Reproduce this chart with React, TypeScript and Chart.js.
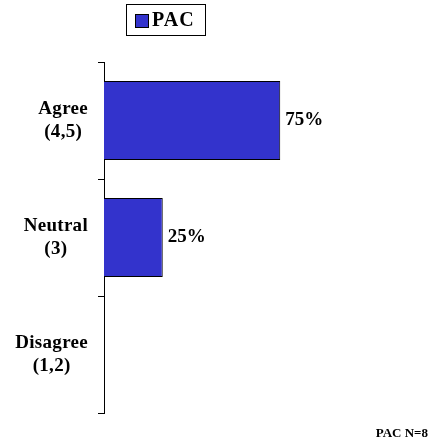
import React, { useEffect, useRef } from "react";
import { Chart, registerables } from "chart.js";

Chart.register(...registerables);

const categories: string[][] = [["Agree", "(4,5)"], ["Neutral", "(3)"], ["Disagree", "(1,2)"]];
const pacValues: number[] = [75, 25, 0];
const seriesName = "PAC";
const footnote = "PAC N=8";
const BAR_COLOR = "#3333CC";
const FONT = "'Liberation Serif', 'Times New Roman', serif";

const overlayPlugin = {
  id: "overlay",
  afterDraw(chart: any) {
    const ctx = chart.ctx;
    const y = chart.scales.y;
    ctx.save();
    // category labels
    ctx.fillStyle = "#000";
    ctx.font = `bold 19px ${FONT}`;
    (ctx as any).letterSpacing = "0.3px";
    ctx.textBaseline = "middle";
    ctx.textAlign = "center";
    categories.forEach((lines, i) => {
      const cy = y.getPixelForValue(i);
      const widths = lines.map((l) => ctx.measureText(l).width);
      const w = Math.max(...widths);
      const cx = 88 - w / 2;
      const lh = 23;
      lines.forEach((l, j) => {
        ctx.fillText(l, cx, cy + (j - (lines.length - 1) / 2) * lh);
      });
    });
    // value labels
    (ctx as any).letterSpacing = "0px";
    ctx.textAlign = "left";
    const meta = chart.getDatasetMeta(0);
    meta.data.forEach((bar: any, i: number) => {
      const v = pacValues[i];
      if (!v) return;
      ctx.fillText(`${v}%`, bar.x + 5, bar.y);
    });
    // legend
    ctx.strokeStyle = "#000";
    ctx.lineWidth = 1;
    ctx.strokeRect(126.5, 4.5, 79, 31);
    ctx.fillStyle = BAR_COLOR;
    ctx.fillRect(135, 14, 14, 14);
    ctx.strokeStyle = "#000";
    ctx.strokeRect(135.5, 14.5, 13, 13);
    ctx.fillStyle = "#000";
    ctx.font = `bold 20px ${FONT}`;
    (ctx as any).letterSpacing = "1px";
    ctx.textAlign = "left";
    ctx.fillText(seriesName, 152, 21);
    // footnote
    ctx.font = `bold 13px ${FONT}`;
    (ctx as any).letterSpacing = "0px";
    ctx.textAlign = "right";
    ctx.fillText(footnote, 428, 434);
    ctx.restore();
  },
};

export default function App() {
  const ref = useRef<HTMLCanvasElement>(null);
  useEffect(() => {
    if (!ref.current) return;
    const chart = new Chart(ref.current, {
      type: "bar",
      data: {
        labels: categories.map((c) => c.join(" ")),
        datasets: [
          {
            label: seriesName,
            data: pacValues,
            backgroundColor: BAR_COLOR,
            borderColor: "#000",
            borderWidth: 1,
            categoryPercentage: 1,
            barPercentage: 0.675,
          },
        ],
      },
      options: {
        indexAxis: "y",
        animation: false,
        responsive: false,
        maintainAspectRatio: false,
        layout: { padding: { top: 62, bottom: 29, right: 90, left: 0 } },
        plugins: { legend: { display: false }, tooltip: { enabled: false } },
        scales: {
          x: { display: false, min: 0, max: 100 },
          y: {
            grid: {
              offset: true,
              drawOnChartArea: false,
              drawTicks: true,
              tickLength: 6,
              color: "#000",
            },
            border: { display: true, color: "#000", width: 1 },
            ticks: { display: false },
            afterFit: (s: any) => {
              s.width = 104;
            },
          },
        },
      },
      plugins: [overlayPlugin],
    });
    return () => chart.destroy();
  }, []);
  return (
    <div style={{ position: "fixed", left: 0, top: 0, width: 429, height: 442, background: "#fff" }}>
      <canvas ref={ref} width={429} height={442} style={{ display: "block" }} />
    </div>
  );
}
